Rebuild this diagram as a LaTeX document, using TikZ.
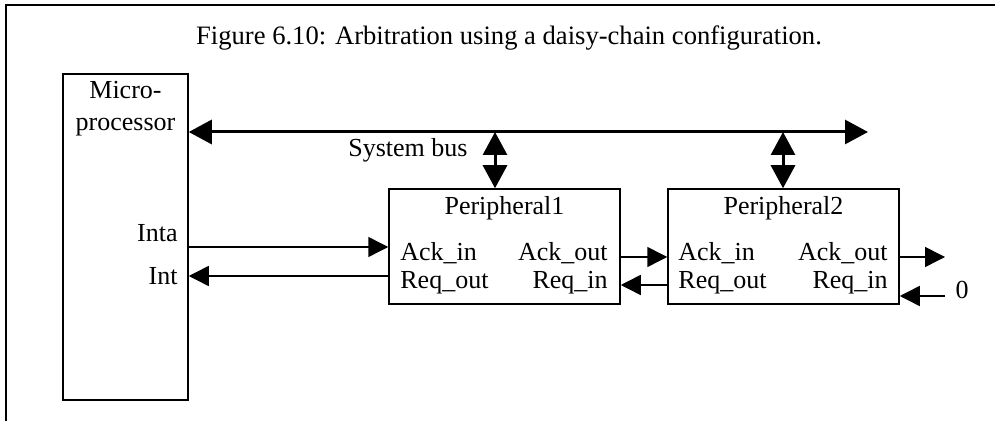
\documentclass[tikz,border=0pt]{standalone}
\usepackage{fontspec}
\setmainfont{Liberation Serif}
\usetikzlibrary{arrows.meta}
\begin{document}
\begin{tikzpicture}[x=0.5pt,y=-0.5pt,
  font=\fontsize{13}{16}\selectfont,
  box/.style={draw, line width=0.75pt, inner sep=0pt},
  sig/.style={line width=0.75pt, -{Triangle[length=10pt,width=10pt]}},
  bus/.style={line width=1.5pt, {Triangle[length=11.5pt,width=12pt]}-{Triangle[length=11.5pt,width=12pt]}},
  lbl/.style={inner sep=0pt}
]
\useasboundingbox (0,0) rectangle (1000,421);
% frame
\draw[line width=1pt] (6,421) -- (6,5) -- (995,5);
% boxes
\node[box, minimum width=62.5pt, minimum height=163pt] (mp) at (125.5,237) {};
\node[box, minimum width=115.5pt, minimum height=57.5pt] (p1) at (504.5,246.5) {};
\node[box, minimum width=115.5pt, minimum height=57.5pt] (p2) at (783.5,246.5) {};
% texts
\node[lbl, anchor=base, font=\fontsize{13.3}{16}\selectfont] (cap) at (509,45) {Figure 6.10: Arbitration using a daisy-chain configuration.};
\node[lbl, anchor=base] (mpa) at (125.5,99) {Micro-};
\node[lbl, anchor=base] (mpb) at (125.5,131) {processor};
\node[lbl, anchor=base east] (inta) at (178,242) {Inta};
\node[lbl, anchor=base east] (int) at (178,285) {Int};
\node[lbl, anchor=base west] (sb) at (348,157) {System bus};
\node[lbl, anchor=base] (p1t) at (504.5,215) {Peripheral1};
\node[lbl, anchor=base west] (p1ai) at (400,261) {Ack\_in};
\node[lbl, anchor=base east] (p1ao) at (608,261) {Ack\_out};
\node[lbl, anchor=base west] (p1ro) at (400,289) {Req\_out};
\node[lbl, anchor=base east] (p1ri) at (608,289) {Req\_in};
\node[lbl, anchor=base] (p2t) at (783.5,215) {Peripheral2};
\node[lbl, anchor=base west] (p2ai) at (678,261) {Ack\_in};
\node[lbl, anchor=base east] (p2ao) at (888,261) {Ack\_out};
\node[lbl, anchor=base west] (p2ro) at (678,289) {Req\_out};
\node[lbl, anchor=base east] (p2ri) at (888,289) {Req\_in};
\node[lbl, anchor=base] (zero) at (962,299) {0};
% coordinates
\coordinate (busR) at (868,132);
\coordinate (b1) at (495,132);
\coordinate (b2) at (783,132);
\coordinate (yInta) at (0,247);
\coordinate (yInt) at (0,276);
\coordinate (yAck) at (0,257);
\coordinate (yReq) at (0,285);
\coordinate (ackend) at (945,257);
\coordinate (zin) at (945,296);
% bus
\draw[bus] (mp.east |- busR) -- (busR);
\draw[bus] (b1) -- (b1 |- p1.north);
\draw[bus] (b2) -- (b2 |- p2.north);
% signals
\draw[sig] (mp.east |- yInta) -- (p1.west |- yInta);
\draw[sig] (p1.west |- yInt) -- (mp.east |- yInt);
\draw[sig] (p1.east |- yAck) -- (p2.west |- yAck);
\draw[sig] (p2.west |- yReq) -- (p1.east |- yReq);
\draw[sig] (p2.east |- yAck) -- (ackend);
\draw[sig] (zin) -- (p2.east |- zin);
\end{tikzpicture}
\end{document}
